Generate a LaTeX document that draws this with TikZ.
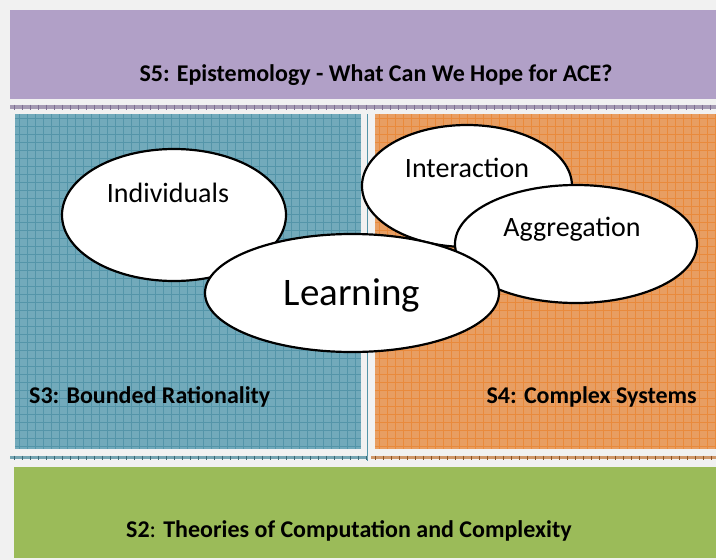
\documentclass[tikz,border=0pt]{standalone}
\usepackage{fontspec}
\setmainfont{Carlito}
\usetikzlibrary{shapes.geometric}
\definecolor{bgc}{HTML}{F1F1F1}
\definecolor{purp}{HTML}{B1A0C7}
\definecolor{purpline}{HTML}{7E6F92}
\definecolor{teal}{HTML}{72AABB}
\definecolor{tealline}{HTML}{5495A9}
\definecolor{orng}{HTML}{E89E62}
\definecolor{orngline}{HTML}{E98A3C}
\definecolor{grn}{HTML}{9BBB59}
\tikzset{
  bubble/.style={ellipse, draw=black, line width=2.2pt, fill=white, inner sep=0pt},
  title/.style={font=\bfseries\fontsize{24}{28}\selectfont, inner sep=0pt},
  btext/.style={font=\fontsize{28}{32}\selectfont, inner sep=0pt, anchor=base},
}
\begin{document}
\begin{tikzpicture}[x=1pt,y=-1pt]
\useasboundingbox (0,0) rectangle (716,560);
\fill[bgc] (0,0) rectangle (716,560);
% top purple
\fill[purp] (10,10) rectangle (716,99);
\node[title, anchor=base] (s5) at (376,81) {S5: Epistemology - What Can We Hope for ACE?};
% strip
\fill[purpline!70] (10,105) rectangle (716,109);
\foreach \x in {14,22,...,716} \draw[purpline, line width=0.8pt] (\x,104.5) -- (\x,109.5);
% teal panel
\fill[teal] (15,114) rectangle (361,449);
\begin{scope}
\clip (15,114) rectangle (361,449);
\foreach \x in {19,27,...,361} \draw[tealline, line width=0.5pt] (\x,114) -- (\x,449);
\foreach \y in {118,126,...,449} \draw[tealline, line width=0.5pt] (15,\y) -- (361,\y);
\end{scope}
\draw[tealline, line width=1pt] (367,114) -- (367,461);
% orange panel
\fill[orng] (375,114) rectangle (716,449);
\begin{scope}
\clip (375,114) rectangle (716,449);
\foreach \x in {379,387,...,716} \draw[orngline, line width=0.5pt] (\x,114) -- (\x,449);
\foreach \y in {118,126,...,449} \draw[orngline, line width=0.5pt] (375,\y) -- (716,\y);
\end{scope}
% lower strips
\fill[teal!85!gray] (10,456) rectangle (368,459);
\foreach \x in {14,22,...,368} \draw[tealline!70!black, line width=0.6pt] (\x,455.5) -- (\x,459.5);
\fill[orng!75!gray] (371,456) rectangle (716,459);
\foreach \x in {375,383,...,716} \draw[orngline!60!black, line width=0.6pt] (\x,455.5) -- (\x,459.5);
% green
\fill[grn] (14,467) rectangle (716,558);
\node[title, anchor=base west] (s2) at (126,537) {S2\textmd{:} Theories of Computation and Complexity};
% section titles
\node[title, anchor=base west] (s3) at (29,403) {S3: Bounded Rationality};
\node[title, anchor=base east] (s4) at (697,403) {S4: Complex Systems};
% bubbles
\node[bubble, minimum width=224pt, minimum height=132pt] (ind) at (174,215) {};
\node[btext] (indt) at (168,202) {Individuals};
\node[bubble, minimum width=210pt, minimum height=122pt] (inter) at (467,186) {};
\node[btext] (intert) at (467,177) {Interaction};
\node[bubble, minimum width=242pt, minimum height=118pt] (agg) at (576,244) {};
\node[btext] (aggt) at (572,236) {Aggregation};
\node[bubble, minimum width=294pt, minimum height=118pt] (learn) at (352,293) {};
\node[btext, font=\fontsize{39}{44}\selectfont] (learnt) at (352,305) {Learning};
\end{tikzpicture}
\end{document}
